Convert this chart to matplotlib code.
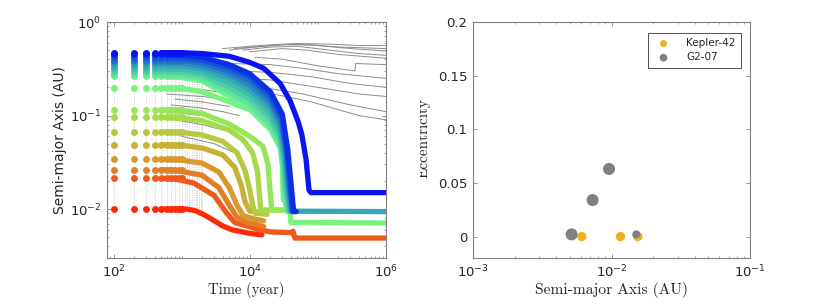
import matplotlib
matplotlib.use("Agg")
import matplotlib.pyplot as plt
from matplotlib.ticker import FixedLocator, FixedFormatter, LogLocator, NullFormatter
from matplotlib.transforms import Bbox, TransformedBbox

plt.rcParams["font.family"] = ["DejaVu Sans"]
plt.rcParams["mathtext.default"] = "regular"
plt.rcParams["axes.formatter.use_mathtext"] = True

# ---- left panel: migration tracks (time in yr, semi-major axis in AU) ----
sample_t = [100, 200, 300, 400, 500, 600, 700, 800, 900, 1000]
grid_t = [100, 200, 300, 400, 500, 600, 700, 800, 900, 1000,
          1100, 1200, 1300, 1400, 1500, 1600, 1700, 1800, 1900, 2000]

track_a0 = [0.0100, 0.0213, 0.0264, 0.034, 0.049, 0.067, 0.096, 0.116, 0.197,
            0.262, 0.28, 0.30, 0.32, 0.345, 0.37, 0.395, 0.42, 0.45, 0.47]

track_t = [
    [500, 1.2e3, 1.6e3, 2.2e3, 3e3, 4e3, 5.5e3, 7e3, 1e4, 1.5e4],
    [500, 800, 1.5e3, 3e3, 4.5e3, 6e3, 9e3, 1.4e4, 2e4, 4.2e4, 4.3e4, 4.6e4, 1e6],
    [500, 800, 2e3, 3.5e3, 5e3, 6.5e3, 9e3, 1.3e4, 1.6e4],
    [500, 800, 2e3, 3.5e3, 5e3, 6.5e3, 8e3, 1.2e4, 1.6e4],
    [500, 1e3, 2e3, 4e3, 6e3, 7.5e3, 8.5e3, 1e4, 1.5e4],
    [500, 1e3, 2e3, 4e3, 6.5e3, 8.5e3, 1e4, 1.1e4, 1.2e4, 1.8e4],
    [500, 1e3, 2e3, 5e3, 8e3, 1.1e4, 1.3e4, 1.4e4, 1.45e4, 3.9e4],
    [500, 1e3, 2e3, 5e3, 1e4, 1.56e4, 1.85e4, 2.0e4, 2.1e4, 4.4e4],
    [500, 1e3, 2e3, 5e3, 1e4, 1.56e4, 2.2e4, 2.77e4, 3.0e4, 3.1e4, 3.9e4, 4.0e4, 1e6],
    [500, 1e3, 2e3, 5e3, 1e4, 2e4, 2.8e4, 3.1e4, 3.3e4, 3.5e4, 4.0e4],
    [500, 1e3, 2e3, 5e3, 1e4, 2e4, 2.8e4, 3.1e4, 3.3e4, 3.7e4, 4.1e4],
    [500, 1e3, 2e3, 5e3, 1e4, 2e4, 2.8e4, 3.2e4, 3.4e4, 3.8e4, 4.2e4],
    [500, 1e3, 2e3, 5e3, 1e4, 2e4, 2.8e4, 3.2e4, 3.5e4, 3.9e4, 4.3e4],
    [500, 1e3, 2e3, 5e3, 1e4, 2e4, 2.8e4, 3.3e4, 3.6e4, 4.0e4, 1e6],
    [500, 1e3, 2e3, 5e3, 1e4, 2e4, 2.9e4, 3.4e4, 3.7e4, 4.1e4, 4.5e4],
    [500, 1e3, 2e3, 5e3, 1e4, 2e4, 2.9e4, 3.4e4, 3.8e4, 4.2e4, 4.6e4],
    [500, 1e3, 2e3, 5e3, 1e4, 2e4, 3e4, 3.5e4, 3.9e4, 4.3e4, 4.7e4],
    [500, 1e3, 2e3, 5e3, 1e4, 2e4, 3e4, 3.6e4, 4.0e4, 4.4e4, 4.8e4],
    [500, 1e3, 2e3, 5e3, 1e4, 1.6e4, 2.8e4, 3.9e4, 5.1e4, 5.8e4, 6.7e4, 7.4e4, 7.9e4, 1e6],
]
track_a = [
    [0.01, 0.01, 0.0096, 0.0086, 0.0075, 0.0066, 0.006, 0.0058, 0.0055, 0.0053],
    [0.0213, 0.021, 0.019, 0.014, 0.0092, 0.0072, 0.0066, 0.006, 0.0057, 0.0056, 0.0058, 0.0049, 0.0049],
    [0.0264, 0.026, 0.023, 0.017, 0.011, 0.0082, 0.0072, 0.0068, 0.0065],
    [0.034, 0.034, 0.031, 0.025, 0.017, 0.011, 0.0085, 0.0078, 0.0075],
    [0.049, 0.048, 0.045, 0.038, 0.028, 0.018, 0.012, 0.0095, 0.0092],
    [0.067, 0.066, 0.062, 0.053, 0.040, 0.026, 0.016, 0.011, 0.009, 0.0088],
    [0.096, 0.094, 0.088, 0.070, 0.055, 0.040, 0.025, 0.013, 0.0098, 0.0097],
    [0.116, 0.114, 0.105, 0.081, 0.060, 0.047, 0.030, 0.015, 0.0098, 0.0097],
    [0.197, 0.195, 0.18, 0.14, 0.115, 0.099, 0.08, 0.06, 0.03, 0.0125, 0.0125, 0.0072, 0.0071],
    [0.262, 0.255, 0.235, 0.16, 0.117, 0.071, 0.045, 0.025, 0.0125, 0.0095, 0.0094],
    [0.28, 0.275, 0.25, 0.18, 0.132, 0.08, 0.05, 0.028, 0.014, 0.0095, 0.0094],
    [0.30, 0.295, 0.27, 0.20, 0.15, 0.092, 0.056, 0.032, 0.016, 0.0095, 0.0094],
    [0.32, 0.315, 0.29, 0.225, 0.17, 0.105, 0.064, 0.035, 0.017, 0.0095, 0.0094],
    [0.345, 0.34, 0.315, 0.25, 0.19, 0.12, 0.072, 0.038, 0.018, 0.0095, 0.0094],
    [0.37, 0.365, 0.34, 0.275, 0.21, 0.135, 0.08, 0.04, 0.019, 0.0095, 0.0094],
    [0.395, 0.39, 0.365, 0.30, 0.235, 0.15, 0.088, 0.042, 0.019, 0.0095, 0.0094],
    [0.42, 0.415, 0.39, 0.325, 0.26, 0.165, 0.094, 0.042, 0.019, 0.0095, 0.0094],
    [0.45, 0.445, 0.42, 0.35, 0.28, 0.18, 0.104, 0.044, 0.020, 0.0095, 0.0094],
    [0.47, 0.47, 0.46, 0.43, 0.37, 0.32, 0.22, 0.144, 0.087, 0.063, 0.034, 0.016, 0.015, 0.015],
]
track_colors = ["#ff2808", "#ee5a1c", "#e47e26", "#d89a2e", "#c8b236", "#b8c840",
                "#a6da4c", "#96e65a", "#78f47c", "#70f090", "#5ee29c", "#4ed0a4",
                "#40bcae", "#34a6b8", "#288ac0", "#1e6ecc", "#1450d8", "#0a30e6",
                "#0a14f0"]

# grey tracks from the comparison run
grey_t = [
    [4e3, 1e4, 2e4, 5e4, 1.5e5, 4e5, 1e6],
    [5e3, 1.2e4, 3e4, 8e4, 2e5, 1e6],
    [6e3, 1.5e4, 4e4, 1e5, 3e5, 1e6],
    [8e3, 2e4, 5e4, 1.5e5, 4e5, 1e6],
    [1e4, 3e4, 7e4, 2e5, 1e6],
    [1.2e4, 3e4, 1e5, 3.5e5, 3.6e5, 1e6],
    [5e3, 2e4, 6e4, 2e5, 1e6],
    [5e3, 2e4, 8e4, 3e5, 1e6],
    [4e3, 2e4, 1e5, 4e5, 1e6],
    [3e3, 1.5e4, 6e4, 3e5, 1e6],
    [3e3, 1.5e4, 8e4, 4e5, 1e6],
    [600, 2e3, 5e3, 1e4],
    [600, 2e3, 4e3, 8e3],
    [800, 2e3, 5e3],
    [700, 2e3, 4e3, 7e3],
    [600, 2e3, 4e3],
    [800, 2e3, 4e3],
    [1e3, 3e3, 6e3],
]
grey_a = [
    [0.52, 0.55, 0.57, 0.59, 0.58, 0.56, 0.56],
    [0.50, 0.54, 0.57, 0.57, 0.54, 0.52],
    [0.52, 0.55, 0.58, 0.56, 0.52, 0.49],
    [0.50, 0.54, 0.55, 0.50, 0.46, 0.44],
    [0.48, 0.52, 0.50, 0.45, 0.41],
    [0.42, 0.40, 0.34, 0.30, 0.36, 0.35],
    [0.36, 0.35, 0.32, 0.28, 0.25],
    [0.30, 0.29, 0.26, 0.22, 0.20],
    [0.26, 0.24, 0.20, 0.17, 0.16],
    [0.22, 0.20, 0.17, 0.13, 0.11],
    [0.20, 0.18, 0.14, 0.10, 0.09],
    [0.20, 0.19, 0.17, 0.16],
    [0.17, 0.16, 0.15, 0.14],
    [0.15, 0.14, 0.125],
    [0.13, 0.12, 0.11, 0.10],
    [0.11, 0.10, 0.09],
    [0.09, 0.08, 0.07],
    [0.06, 0.05, 0.04],
]

# ---- right panel: final systems ----
kepler_a = [0.0061, 0.0116, 0.0155]
kepler_e = [0.0, 0.0, 0.0]
g207_a = [0.00515, 0.0073, 0.0096, 0.0151]
g207_e = [0.002, 0.034, 0.063, 0.002]
g207_size = [75, 75, 75, 34]

fig = plt.figure(figsize=(8.3, 3.04), dpi=100)
ax1 = fig.add_axes([107 / 830, 46 / 304, 279 / 830, 236 / 304])
ax2 = fig.add_axes([473 / 830, 46 / 304, 277 / 830, 236 / 304])

frame = "#808080"
txt = "#262626"

# grey background tracks
ax1.vlines(grid_t, 0.0095, 0.47, colors="#b4b4b4", linestyles=(0, (1, 1.5)), lw=0.5, zorder=1)
for gt, ga in zip(grey_t, grey_a):
    ax1.plot(gt, ga, color="#8c8c8c", lw=0.7, zorder=2)

# coloured tracks
for a0, tt, aa, c in zip(track_a0, track_t, track_a, track_colors):
    ax1.plot(tt, aa, color=c, lw=3.8, solid_capstyle="round", solid_joinstyle="round", zorder=3)
    ax1.plot(sample_t, [a0] * len(sample_t), "o", color=c, ms=5, mec="none", zorder=3)

ax1.set_xscale("log")
ax1.set_yscale("log")
ax1.set_xlim(80, 1e6)
ax1.set_ylim(0.003, 1)
ax1.xaxis.set_major_locator(FixedLocator([1e2, 1e4, 1e6]))
ax1.xaxis.set_minor_locator(LogLocator(base=10, subs=range(1, 10), numticks=20))
ax1.xaxis.set_minor_formatter(NullFormatter())
ax1.yaxis.set_minor_formatter(NullFormatter())
ax1.set_ylabel("Semi-major Axis (AU)", fontsize=10, color=txt, labelpad=2)
ax1.set_xlabel("Time (year)", family="cmr10", fontsize=10.5, color=txt, labelpad=1)

# right panel
ax2.scatter(kepler_a, kepler_e, s=45, color="#EDB120", edgecolors="none", label="Kepler-42", zorder=3)
ax2.scatter(g207_a, g207_e, s=g207_size, color="#808080", edgecolors="none", label="G2-07", zorder=3)
ax2.set_xscale("log")
ax2.set_xlim(1e-3, 1e-1)
ax2.set_ylim(-0.02, 0.2)
ax2.yaxis.set_major_locator(FixedLocator([0, 0.05, 0.1, 0.15, 0.2]))
ax2.yaxis.set_major_formatter(FixedFormatter(["0", "0.05", "0.1", "0.15", "0.2"]))
ax2.xaxis.set_minor_formatter(NullFormatter())
ax2.set_xlabel("Semi-major Axis (AU)", family="cmr10", fontsize=11.2, color=txt, labelpad=1)

leg = ax2.legend(loc="upper right", bbox_to_anchor=(0.9675, 0.953), fontsize=7.5,
                 frameon=True, fancybox=False, borderaxespad=0, handletextpad=1.2,
                 borderpad=0.5, labelspacing=0.4, scatterpoints=1, markerscale=0.75)
leg.get_frame().set_edgecolor(txt)
leg.get_frame().set_linewidth(0.7)
for t in leg.get_texts():
    t.set_color(txt)

# eccentricity label, left half cut off as in the source figure
ecc = fig.text(423.5 / 830, 166 / 304, "Eccentricity", rotation=90,
               ha="center", va="center", family="cmr10", fontsize=11, color=txt)
ecc.set_clip_box(TransformedBbox(Bbox([[420 / 830, 0], [1, 1]]), fig.transFigure))
ecc.set_clip_on(True)

for ax in (ax1, ax2):
    for sp in ax.spines.values():
        sp.set_color(frame)
        sp.set_linewidth(0.8)
    ax.tick_params(which="both", direction="in", top=True, right=True, color=frame)
    ax.tick_params(which="major", length=3, width=0.6, labelsize=9.5, labelcolor=txt, pad=4)
    ax.tick_params(which="minor", length=1.6, width=0.5)

fig.savefig("out.png", dpi=100, facecolor="white")
